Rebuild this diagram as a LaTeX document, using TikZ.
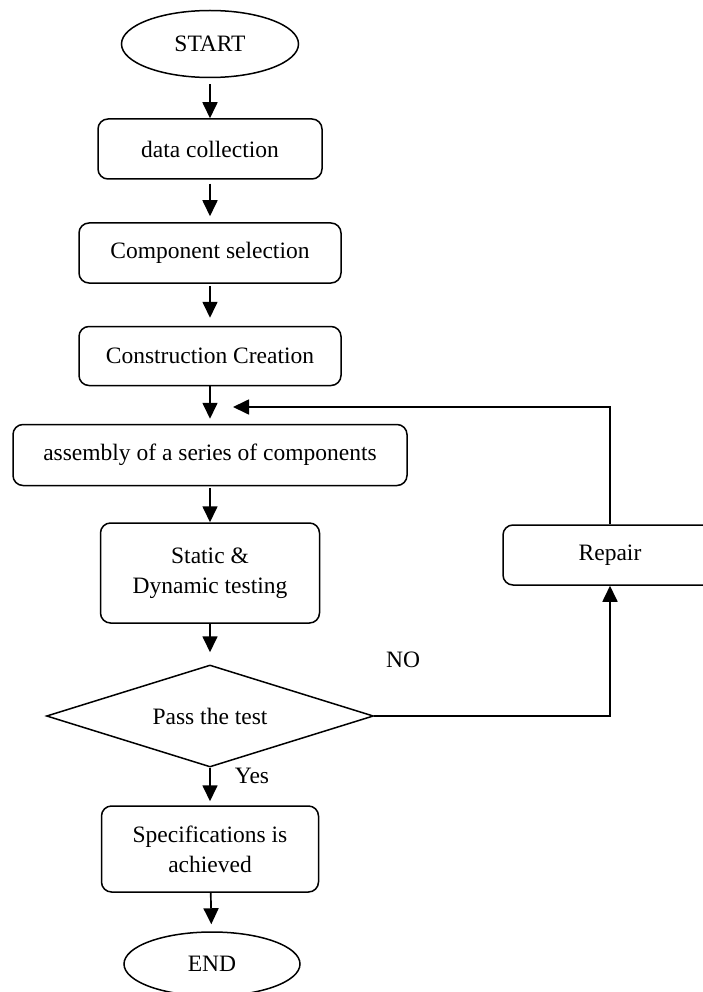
\documentclass[tikz,border=0pt]{standalone}
\usepackage{fontspec}
\setmainfont{Liberation Serif}
\usetikzlibrary{shapes.geometric,arrows.meta}

\begin{document}
\begin{tikzpicture}[x=1pt, y=-1pt,
  every node/.style={font=\fontsize{23.5}{30}\selectfont},
  box/.style={draw, line width=1.5pt, rounded corners=10pt, align=center, inner sep=0pt},
  oval/.style={draw, ellipse, line width=1.5pt, inner sep=0pt},
  arr/.style={-{Triangle[length=16pt,width=15pt]}, line width=1.7pt}]
\useasboundingbox (0,0) rectangle (702,992);

\node[oval, minimum width=177pt, minimum height=67pt] (start) at (210,44) {START};
\node[box, minimum width=224pt, minimum height=60pt] (data) at (210,149) {data collection};
\node[box, minimum width=262pt, minimum height=60pt] (comp) at (210,253) {Component selection};
\node[box, minimum width=262pt, minimum height=59pt] (constr) at (210,356) {Construction Creation};
\node[box, minimum width=394pt, minimum height=61pt] (assembly) at (210,455) {assembly of a series of components};
\node[box, minimum width=219pt, minimum height=100pt] (testing) at (210,573) {Static \&\\Dynamic testing};
\node[draw, diamond, aspect=3.2, line width=1.5pt, inner sep=0pt, minimum width=327pt, minimum height=102pt] (pass) at (210,716) {Pass the test};
\node[box, minimum width=214pt, minimum height=60pt] (repair) at (610,555) {Repair};
\node[box, minimum width=217pt, minimum height=86pt] (spec) at (210,849) {Specifications is\\achieved};
\node[oval, minimum width=176pt, minimum height=64pt] (end) at (212,964) {END};

\node (no) at (403,660) {NO};
\node (yes) at (252,776) {Yes};
\coordinate (back) at (233,407);

% main flow
\draw[arr, shorten <=6pt] (start) -- (data);
\draw[arr, shorten <=4pt, shorten >=6pt] (data) -- (comp);
\draw[arr, shorten <=2pt, shorten >=8pt] (comp) -- (constr);
\draw[arr, shorten >=5pt] (constr) -- (assembly);
\draw[arr, shorten <=2pt] (assembly) -- (testing);
\draw[arr, shorten >=12pt] (testing) -- (pass);
\draw[arr, shorten >=4pt] (pass) -- (spec);
\draw[arr, shorten >=7pt] (spec) -- (end);

% repair loop
\draw[arr] (pass.east) -| (repair.south);
\draw[arr] (repair.north) |- (back);
\end{tikzpicture}
\end{document}
